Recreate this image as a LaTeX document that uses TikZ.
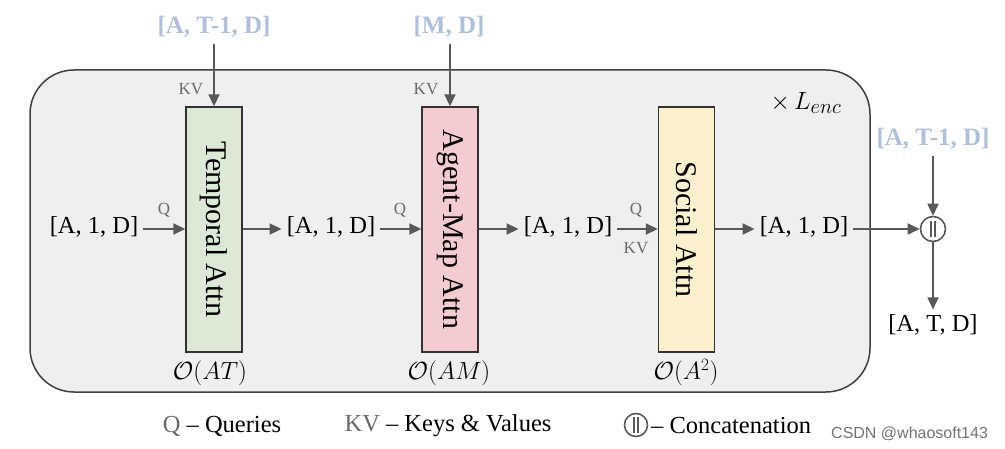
\documentclass[tikz,border=0pt]{standalone}
\usepackage{fontspec}
\setmainfont{Liberation Serif}
\newfontfamily\wmfont{Liberation Sans}
\usetikzlibrary{arrows.meta}
\definecolor{arrowgray}{HTML}{585858}
\definecolor{panelgray}{HTML}{EFEFEF}
\definecolor{tgreen}{HTML}{DCE9D5}
\definecolor{mpink}{HTML}{F4CCD0}
\definecolor{syellow}{HTML}{FCF1CC}
\definecolor{toplbl}{HTML}{AFC0DC}
\definecolor{qgray}{HTML}{6A6A6A}
\begin{document}
\begin{tikzpicture}[x=1pt,y=-1pt,
  every node/.style={font=\fontsize{24.5}{28}\selectfont, inner sep=1pt},
  flow/.style={inner sep=5pt},
  conn/.style={draw=arrowgray, line width=1.8pt, -{Triangle[length=12pt,width=11pt]}},
  attnbox/.style={draw=black!80, line width=1.4pt, minimum width=56pt, minimum height=245pt, inner sep=0pt},
  boxtext/.style={rotate=-90, font=\fontsize{30}{34}\selectfont},
  toplabel/.style={text=toplbl, font=\fontsize{25}{28}\selectfont\bfseries, inner sep=6pt},
  qlabel/.style={text=qgray, font=\fontsize{17}{20}\selectfont},
  cplx/.style={font=\fontsize{24}{28}\selectfont},
  concat/.style={circle, draw=arrowgray, line width=1.6pt, minimum size=25pt, inner sep=0pt,
    path picture={\draw[arrowgray, line width=1.4pt]
      ([xshift=-2pt,yshift=-8pt]path picture bounding box.center) -- ([xshift=-2pt,yshift=8pt]path picture bounding box.center)
      ([xshift=2pt,yshift=-8pt]path picture bounding box.center) -- ([xshift=2pt,yshift=8pt]path picture bounding box.center);}}
]
\path[use as bounding box] (0,0) rectangle (1005,449);

% panel
\draw[fill=panelgray, draw=black!75, line width=1.5pt, rounded corners=44pt] (30,70) rectangle (870,392);
\node[font=\fontsize{30}{32}\selectfont] (lenc) at (806,103) {$\times\, L_{enc}$};

% attention boxes
\node[attnbox, fill=tgreen] (temporal) at (214,229.5) {};
\node[boxtext] (temporaltxt) at (temporal.center) {Temporal Attn};
\node[attnbox, fill=mpink] (agentmap) at (450,229.5) {};
\node[boxtext] (agentmaptxt) at (agentmap.center) {Agent-Map Attn};
\node[attnbox, fill=syellow] (social) at (686.5,229.5) {};
\node[boxtext] (socialtxt) at (social.center) {Social Attn};

% complexity labels
\node[cplx] (oat) at (210,373) {$\mathcal{O}(AT)$};
\node[cplx] (oam) at (449,373) {$\mathcal{O}(AM)$};
\node[cplx] (oa2) at (686,373) {$\mathcal{O}(A^2)$};

% top inputs
\node[toplabel] (kvin1) at (214,27) {[A, T-1, D]};
\node[toplabel] (kvin2) at (449,27) {[M, D]};
\draw[conn] (kvin1.south -| temporal.north) -- (temporal.north);
\draw[conn] (kvin2.south -| agentmap.north) -- (agentmap.north);
\node[qlabel] (kv1) at (191,89) {KV};
\node[qlabel] (kv2) at (426,89) {KV};

% main flow
\node[flow] (in0) at (94,227) {[A, 1, D]};
\node[flow] (mid1) at (331,227) {[A, 1, D]};
\node[flow] (mid2) at (568,227) {[A, 1, D]};
\node[flow] (mid3) at (804,227) {[A, 1, D]};
\coordinate (flowy) at (0,229);
\draw[conn] (in0.east |- flowy) -- (temporal.west |- flowy);
\draw[conn] (temporal.east |- flowy) -- (mid1.west |- flowy);
\draw[conn] (mid1.east |- flowy) -- (agentmap.west |- flowy);
\draw[conn] (agentmap.east |- flowy) -- (mid2.west |- flowy);
\draw[conn] (mid2.east |- flowy) -- (social.west |- flowy);
\draw[conn] (social.east |- flowy) -- (mid3.west |- flowy);
\node[qlabel] (q1) at (164,210) {Q};
\node[qlabel] (q2) at (400,210) {Q};
\node[qlabel] (q3) at (636,210) {Q};
\node[qlabel] (kv3) at (636,248) {KV};

% concatenation
\node[concat] (cat) at (933,229) {};
\draw[conn] (mid3.east |- flowy) -- (cat.west);
\node[toplabel] (kvin3) at (933,139) {[A, T-1, D]};
\draw[conn] (kvin3.south) -- (cat.north);
\node[flow] (final) at (933,325) {[A, T, D]};
\draw[conn] (cat.south) -- (final.north);

% legend
\node (legq) at (222,426) {\textcolor{qgray}{Q} -- Queries};
\node (legkv) at (448,426) {\textcolor{qgray}{KV} -- Keys \& Values};
\node[concat, minimum size=23pt] (legcat) at (636,425) {};
\node[anchor=west] (legcattxt) at (650,426) {-- Concatenation};
\node[anchor=west, font=\fontsize{16}{18}\wmfont, text=black!55] (wm) at (830,434) {CSDN @whaosoft143};
\end{tikzpicture}
\end{document}
